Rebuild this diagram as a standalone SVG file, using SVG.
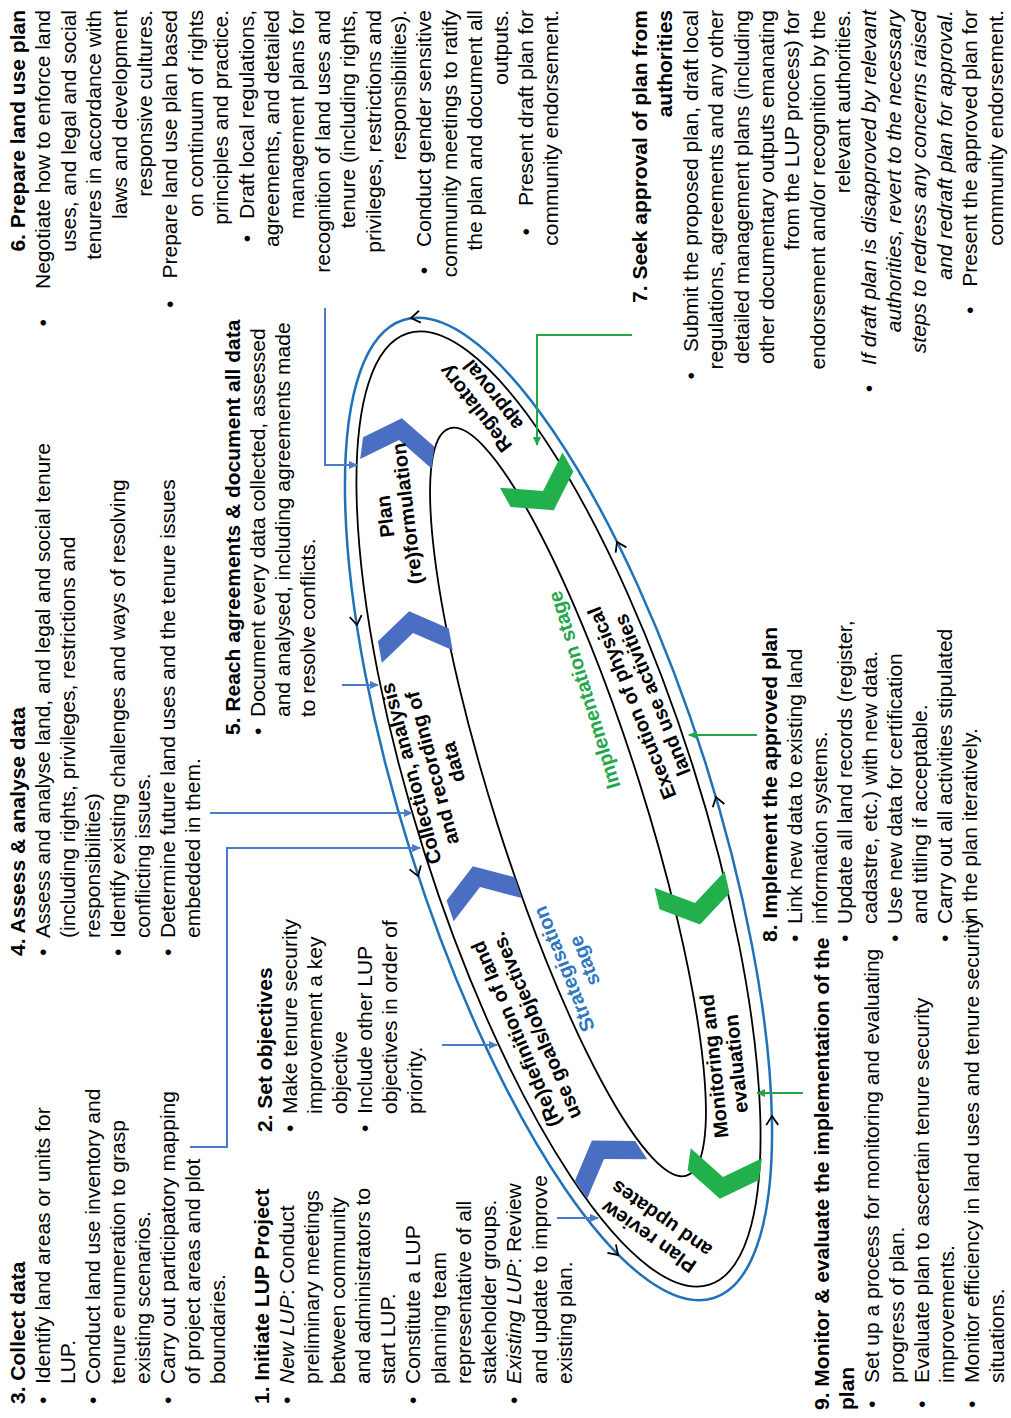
<svg xmlns="http://www.w3.org/2000/svg" xmlns:xlink="http://www.w3.org/1999/xlink" width="1011" height="1418" viewBox="0 0 1011 1418">
<style>
.t{font-family:"Liberation Sans",Arial,sans-serif;font-size:21px;fill:#000}
.b{font-weight:bold}
.i{font-style:italic}
.r{text-anchor:end}
.bl{font-family:"Liberation Sans",Arial,sans-serif;font-size:20px;font-weight:bold;text-anchor:middle;fill:#000}
.sb{fill:#2f78c0}
.sg{fill:#22a84a}
.cb{stroke:#4a7ac8;stroke-width:2;fill:none}
.cg{stroke:#22a84a;stroke-width:2;fill:none}
.chb{fill:#4a6ec2}
.chg{fill:#22b04c}
</style>
<defs>
<marker id="ab" markerWidth="9" markerHeight="8" refX="8" refY="4" orient="auto" markerUnits="userSpaceOnUse"><path d="M0,0 L9,4 L0,8 z" fill="#4a7ac8"/></marker>
<marker id="ag" markerWidth="9" markerHeight="8" refX="8" refY="4" orient="auto" markerUnits="userSpaceOnUse"><path d="M0,0 L9,4 L0,8 z" fill="#22a84a"/></marker>
<polygon id="chev" points="-24,-36 -2,-36 22,0 -2,36 -24,36 0,0"/>
<path id="ah" d="M-9,-6 L0,0 L-9,6" fill="none" stroke="#000" stroke-width="1.8"/>
</defs>
<rect width="1011" height="1418" fill="#fff"/>

<g id="cycle">
  <ellipse cx="558.5" cy="809" rx="513" ry="154" transform="rotate(72.4 558.5 809)" fill="none" stroke="#1f72b8" stroke-width="2.5"/>
  <ellipse cx="558.5" cy="809" rx="499" ry="141" transform="rotate(72.4 558.5 809)" fill="none" stroke="#000" stroke-width="1.8"/>
  <ellipse cx="568" cy="802" rx="392" ry="74" transform="rotate(72.4 568 802)" fill="none" stroke="#000" stroke-width="1.8"/>
  <g id="chevrons">
    <use xlink:href="#chev" class="chb" transform="translate(399,440) rotate(-82.5)"/>
    <use xlink:href="#chev" class="chb" transform="translate(413,633) rotate(-100.2)"/>
    <use xlink:href="#chev" class="chb" transform="translate(480,887) rotate(-108.8)"/>
    <use xlink:href="#chev" class="chb" transform="translate(604,1159) rotate(-123.3)"/>
    <use xlink:href="#chev" class="chg" transform="translate(543,491) rotate(60.6)"/>
    <use xlink:href="#chev" class="chg" transform="translate(695,903) rotate(76.9)"/>
    <use xlink:href="#chev" class="chg" transform="translate(723,1177) rotate(98.1)"/>
  </g>
  <g id="loop-arrows">
    <use xlink:href="#ah" transform="translate(411,318) rotate(171.6)"/>
    <use xlink:href="#ah" transform="translate(357,625) rotate(81.3)"/>
    <use xlink:href="#ah" transform="translate(418,876) rotate(71.7)"/>
    <use xlink:href="#ah" transform="translate(618,1255) rotate(45.3)"/>
    <use xlink:href="#ah" transform="translate(772,1116) rotate(-91.3)"/>
    <use xlink:href="#ah" transform="translate(716,797) rotate(-106.4)"/>
    <use xlink:href="#ah" transform="translate(617,542) rotate(-116.5)"/>
  </g>
  <g id="s-regulatory"><text class="bl" transform="translate(484,402) rotate(-128)"><tspan x="0" y="-4">Regulatory</tspan><tspan x="0" y="18">approval</tspan></text></g>
  <g id="s-plan"><text class="bl" transform="translate(396,515) rotate(-97)"><tspan x="0" y="-4">Plan</tspan><tspan x="0" y="18">(re)formulation</tspan></text></g>
  <g id="s-collection"><text class="bl" transform="translate(432,768) rotate(-105)"><tspan x="0" y="-15">Collection, analysis</tspan><tspan x="0" y="7">and recording of</tspan><tspan x="0" y="29">data</tspan></text></g>
  <g id="s-redefinition"><text class="bl" transform="translate(526,1030) rotate(-113)"><tspan x="0" y="-4">(Re)definition of land</tspan><tspan x="0" y="18">use goals/objectives.</tspan></text></g>
  <g id="s-review"><text class="bl" transform="translate(655,1228) rotate(-145)"><tspan x="0" y="-4">Plan review</tspan><tspan x="0" y="18">and updates</tspan></text></g>
  <g id="s-monitoring"><text class="bl" transform="translate(725,1065) rotate(-96)"><tspan x="0" y="-4">Monitoring and</tspan><tspan x="0" y="18">evaluation</tspan></text></g>
  <g id="s-execution"><text class="bl" transform="translate(642,699) rotate(-112)"><tspan x="0" y="-4">Execution of physical</tspan><tspan x="0" y="18">land use activities</tspan></text></g>
  <g id="stage-strategisation"><text class="bl sb" transform="translate(574,965) rotate(-112)"><tspan x="0" y="-4">Strategisation</tspan><tspan x="0" y="18">stage</tspan></text></g>
  <g id="stage-implementation"><text class="bl sg" transform="translate(584,690) rotate(-107)"><tspan x="0" y="7">Implementation stage</tspan></text></g>
</g>

<g id="connectors">
  <path class="cb" d="M325,308 V465 H357" marker-end="url(#ab)"/>
  <path class="cb" d="M342,685 H378" marker-end="url(#ab)"/>
  <path class="cb" d="M210,813 H412" marker-end="url(#ab)"/>
  <path class="cb" d="M190,1147 H227 V848 H420" marker-end="url(#ab)"/>
  <path class="cb" d="M442,1045 H497" marker-end="url(#ab)"/>
  <path class="cb" d="M557,1218 H598" marker-end="url(#ab)"/>
  <path class="cg" d="M632,335 H537 V445" marker-end="url(#ag)"/>
  <path class="cg" d="M757,735 H689" marker-end="url(#ag)"/>
  <path class="cg" d="M803,1093 H757" marker-end="url(#ag)"/>
</g>

<g id="text-blocks" transform="matrix(0,-1,1,0,0,1418)">
  <g id="n3">
    <text class="t b" x="14" y="25">3. Collect data</text>
    <text class="t" x="14" y="50">•</text><text class="t" x="34" y="50">Identify land areas or units for</text>
    <text class="t" x="34" y="75">LUP.</text>
    <text class="t" x="14" y="100">•</text><text class="t" x="34" y="100">Conduct land use inventory and</text>
    <text class="t" x="34" y="125">tenure enumeration to grasp</text>
    <text class="t" x="34" y="150">existing scenarios.</text>
    <text class="t" x="14" y="175">•</text><text class="t" x="34" y="175">Carry out participatory mapping</text>
    <text class="t" x="34" y="200">of project areas and plot</text>
    <text class="t" x="34" y="225">boundaries.</text>
  </g>
  <g id="n1">
    <text class="t b" x="14" y="269">1. Initiate LUP Project</text>
    <text class="t" x="14" y="294">•</text><text class="t" x="34" y="294"><tspan class="i">New LUP</tspan>: Conduct</text>
    <text class="t" x="34" y="319">preliminary meetings</text>
    <text class="t" x="34" y="345">between community</text>
    <text class="t" x="34" y="370">and administrators to</text>
    <text class="t" x="34" y="395">start LUP.</text>
    <text class="t" x="14" y="420">•</text><text class="t" x="34" y="420">Constitute a LUP</text>
    <text class="t" x="34" y="446">planning team</text>
    <text class="t" x="34" y="471">representative of all</text>
    <text class="t" x="34" y="496">stakeholder groups.</text>
    <text class="t" x="14" y="521">•</text><text class="t" x="34" y="521"><tspan class="i">Existing LUP</tspan>: Review</text>
    <text class="t" x="34" y="547">and update to improve</text>
    <text class="t" x="34" y="572">existing plan.</text>
  </g>
  <g id="n2">
    <text class="t b" x="286" y="272">2. Set objectives</text>
    <text class="t" x="286" y="297">•</text><text class="t" x="304" y="297">Make tenure security</text>
    <text class="t" x="304" y="322">improvement a key</text>
    <text class="t" x="304" y="347">objective</text>
    <text class="t" x="286" y="372">•</text><text class="t" x="304" y="372">Include other LUP</text>
    <text class="t" x="304" y="397">objectives in order of</text>
    <text class="t" x="304" y="422">priority.</text>
  </g>
  <g id="n4">
    <text class="t b" x="462" y="25">4. Assess &amp; analyse data</text>
    <text class="t" x="462" y="50">•</text><text class="t" x="480" y="50">Assess and analyse land, and legal and social tenure</text>
    <text class="t" x="480" y="75">(including rights, privileges, restrictions and</text>
    <text class="t" x="480" y="100">responsibilities)</text>
    <text class="t" x="462" y="125">•</text><text class="t" x="480" y="125">Identify existing challenges and ways of resolving</text>
    <text class="t" x="480" y="150">conflicting issues.</text>
    <text class="t" x="462" y="175">•</text><text class="t" x="480" y="175">Determine future land uses and the tenure issues</text>
    <text class="t" x="480" y="200">embedded in them.</text>
  </g>
  <g id="n5">
    <text class="t b" x="683" y="240">5. Reach agreements &amp; document all data</text>
    <text class="t" x="683" y="265">•</text><text class="t" x="701" y="265">Document every data collected, assessed</text>
    <text class="t" x="701" y="290">and analysed, including agreements made</text>
    <text class="t" x="701" y="315">to resolve conflicts.</text>
  </g>
  <g id="n6">
    <text class="t b r" x="1408" y="25">6. Prepare land use plan</text>
    <text class="t r" x="1408" y="50.4"><tspan>•</tspan><tspan dx="30">Negotiate how to enforce land</tspan></text>
    <text class="t r" x="1408" y="75.8">uses, and legal and social</text>
    <text class="t r" x="1408" y="101.2">tenures in accordance with</text>
    <text class="t r" x="1408" y="126.6">laws and development</text>
    <text class="t r" x="1408" y="152">responsive cultures.</text>
    <text class="t r" x="1408" y="177.4"><tspan>•</tspan><tspan dx="22">Prepare land use plan based</tspan></text>
    <text class="t r" x="1408" y="202.8">on continuum of rights</text>
    <text class="t r" x="1408" y="228.2">principles and practice.</text>
    <text class="t r" x="1408" y="253.6"><tspan>•</tspan><tspan dx="16">Draft local regulations,</tspan></text>
    <text class="t r" x="1408" y="279">agreements, and detailed</text>
    <text class="t r" x="1408" y="304.4">management plans for</text>
    <text class="t r" x="1408" y="329.8">recognition of land uses and</text>
    <text class="t r" x="1408" y="355.2">tenure (including rights,</text>
    <text class="t r" x="1408" y="380.6">privileges, restrictions and</text>
    <text class="t r" x="1408" y="406">responsibilities).</text>
    <text class="t r" x="1408" y="431.4"><tspan>•</tspan><tspan dx="20">Conduct gender sensitive</tspan></text>
    <text class="t r" x="1408" y="456.8">community meetings to ratify</text>
    <text class="t r" x="1408" y="482.2">the plan and document all</text>
    <text class="t r" x="1408" y="507.6">outputs.</text>
    <text class="t r" x="1408" y="533"><tspan>•</tspan><tspan dx="22">Present draft plan for</tspan></text>
    <text class="t r" x="1408" y="558.4">community endorsement.</text>
  </g>
  <g id="n7">
    <text class="t b r" x="1408" y="647">7. Seek approval of plan from</text>
    <text class="t b r" x="1408" y="672.4">authorities</text>
    <text class="t r" x="1408" y="697.8"><tspan>•</tspan><tspan dx="20">Submit the proposed plan, draft local</tspan></text>
    <text class="t r" x="1408" y="723.2">regulations, agreements and any other</text>
    <text class="t r" x="1408" y="748.6">detailed management plans (including</text>
    <text class="t r" x="1408" y="774">other documentary outputs emanating</text>
    <text class="t r" x="1408" y="799.4">from the LUP process) for</text>
    <text class="t r" x="1408" y="824.8">endorsement and/or recognition by the</text>
    <text class="t r" x="1408" y="850.2">relevant authorities.</text>
    <text class="t r i" x="1408" y="875.6"><tspan style="font-style:normal">•</tspan><tspan dx="20">If draft plan is disapproved by relevant</tspan></text>
    <text class="t r i" x="1408" y="901">authorities, revert to the necessary</text>
    <text class="t r i" x="1408" y="926.4">steps to redress any concerns raised</text>
    <text class="t r i" x="1408" y="951.8">and redraft plan for approval.</text>
    <text class="t r" x="1408" y="977.2"><tspan>•</tspan><tspan dx="20">Present the approved plan for</tspan></text>
    <text class="t r" x="1408" y="1002.6">community endorsement.</text>
  </g>
  <g id="n8">
    <text class="t b" x="476" y="777">8. Implement the approved plan</text>
    <text class="t" x="476" y="802">•</text><text class="t" x="494" y="802">Link new data to existing land</text>
    <text class="t" x="494" y="827">information systems.</text>
    <text class="t" x="476" y="852">•</text><text class="t" x="494" y="852">Update all land records (register,</text>
    <text class="t" x="494" y="877">cadastre, etc.) with new data.</text>
    <text class="t" x="476" y="902">•</text><text class="t" x="494" y="902">Use new data for certification</text>
    <text class="t" x="494" y="927">and titling if acceptable.</text>
    <text class="t" x="476" y="952">•</text><text class="t" x="494" y="952">Carry out all activities stipulated</text>
    <text class="t" x="494" y="977">in the plan iteratively.</text>
  </g>
  <g id="n9">
    <text class="t b" x="8" y="829">9. Monitor &amp; evaluate the implementation of the</text>
    <text class="t b" x="8" y="854">plan</text>
    <text class="t" x="10" y="879">•</text><text class="t" x="35" y="879">Set up a process for monitoring and evaluating</text>
    <text class="t" x="35" y="904">progress of plan.</text>
    <text class="t" x="10" y="929">•</text><text class="t" x="35" y="929">Evaluate plan to ascertain tenure security</text>
    <text class="t" x="35" y="954">improvements.</text>
    <text class="t" x="10" y="979">•</text><text class="t" x="35" y="979">Monitor efficiency in land uses and tenure security</text>
    <text class="t" x="35" y="1004">situations.</text>
  </g>
</g>
</svg>
